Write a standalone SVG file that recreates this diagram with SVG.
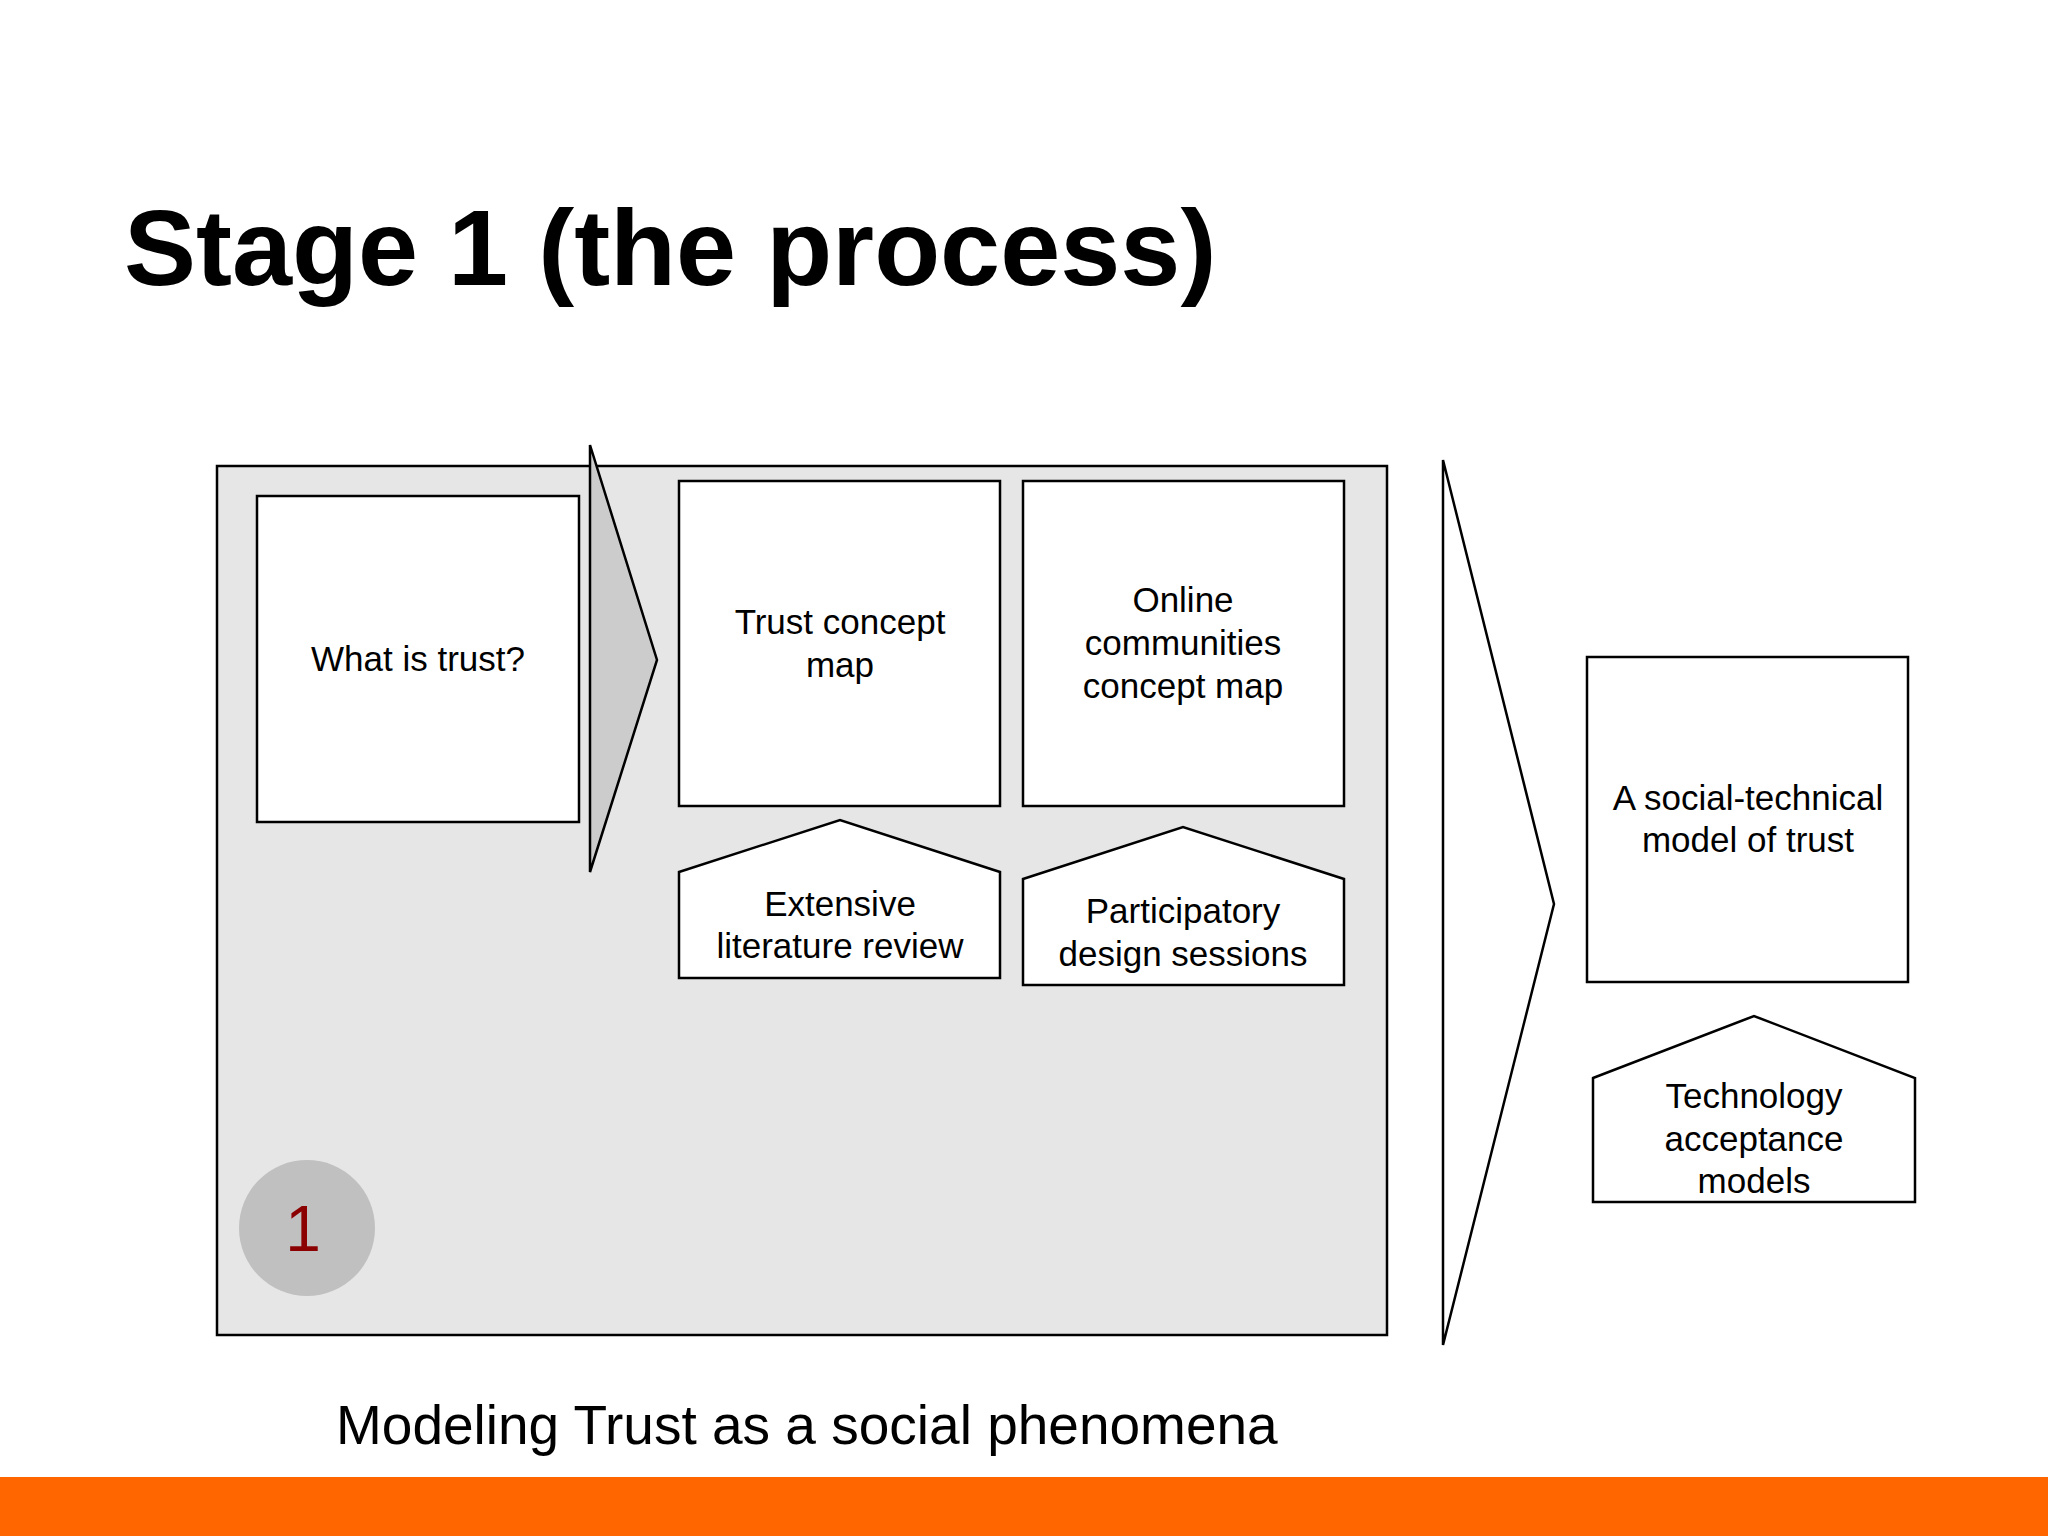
<svg xmlns="http://www.w3.org/2000/svg" width="2048" height="1536" viewBox="0 0 2048 1536">
<style>
.b{fill:#fff;stroke:#000;stroke-width:2.5}
.t{font-family:"Liberation Sans",Arial,sans-serif;font-size:35px;text-anchor:middle;fill:#000}
</style>
<rect width="2048" height="1536" fill="#fff"/>
<text x="124" y="285" font-family="Liberation Sans,Arial,sans-serif" font-weight="bold" font-size="108" fill="#000">Stage 1 (the process)</text>
<g id="stage"><rect x="217" y="466" width="1170" height="869" fill="#e6e6e6" stroke="#000" stroke-width="2.5"/></g>
<g id="what"><rect class="b" x="257" y="496" width="322" height="326"/><text class="t" x="418" y="671">What is trust?</text></g>
<g id="connectors">
<polygon points="590,445 657,660 590,872" fill="#ccc" stroke="#000" stroke-width="2.5"/>
<polygon points="1443,460 1554,904 1443,1345" fill="#fff" stroke="#000" stroke-width="2.5"/>
</g>
<g id="tcm"><rect class="b" x="679" y="481" width="321" height="325"/><text class="t" x="840" y="634">Trust concept</text><text class="t" x="840" y="677">map</text></g>
<g id="ocm"><rect class="b" x="1023" y="481" width="321" height="325"/><text class="t" x="1183" y="612">Online</text><text class="t" x="1183" y="655">communities</text><text class="t" x="1183" y="698">concept map</text></g>
<g id="elr"><polygon class="b" points="679,872 840,820 1000,872 1000,978 679,978"/><text class="t" x="840" y="916">Extensive</text><text class="t" x="840" y="958">literature review</text></g>
<g id="pds"><polygon class="b" points="1023,879 1183,827 1344,879 1344,985 1023,985"/><text class="t" x="1183" y="923">Participatory</text><text class="t" x="1183" y="966">design sessions</text></g>
<g id="stm"><rect class="b" x="1587" y="657" width="321" height="325"/><text class="t" x="1748" y="810">A social-technical</text><text class="t" x="1748" y="852">model of trust</text></g>
<g id="tam"><polygon class="b" points="1593,1078 1754,1016 1915,1078 1915,1202 1593,1202"/><text class="t" x="1754" y="1108">Technology</text><text class="t" x="1754" y="1151">acceptance</text><text class="t" x="1754" y="1193">models</text></g>
<g id="num"><circle cx="307" cy="1228" r="68" fill="#c0c0c0"/><text x="303" y="1251" font-family="Liberation Sans,Arial,sans-serif" font-size="64" text-anchor="middle" fill="#8b0000">1</text></g>
<text x="336" y="1444" font-family="Liberation Sans,Arial,sans-serif" font-size="55" fill="#000">Modeling Trust as a social phenomena</text>
<rect x="0" y="1477" width="2048" height="59" fill="#ff6600"/>
</svg>
